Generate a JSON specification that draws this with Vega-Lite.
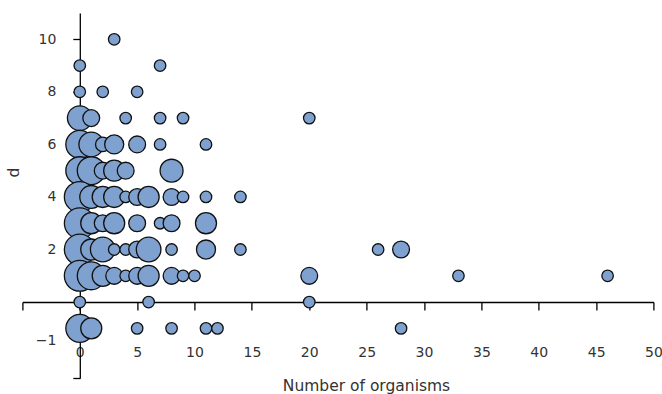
{
  "$schema": "https://vega.github.io/schema/vega-lite/v6.json",
  "autosize": {"type": "none"},
  "padding": {"left": 22.4, "top": 13, "right": 8.5, "bottom": 15.7},
  "width": 631.1,
  "height": 365.3,
  "background": "white",
  "config": {"view": {"stroke": null}},
  "data": {"values": [
    {"d": 10, "organisms": 3, "n": 1},
    {"d": 9, "organisms": 0, "n": 1},
    {"d": 9, "organisms": 7, "n": 1},
    {"d": 8, "organisms": 0, "n": 1},
    {"d": 8, "organisms": 2, "n": 1},
    {"d": 8, "organisms": 5, "n": 1},
    {"d": 7, "organisms": 0, "n": 4},
    {"d": 7, "organisms": 1, "n": 2},
    {"d": 7, "organisms": 4, "n": 1},
    {"d": 7, "organisms": 7, "n": 1},
    {"d": 7, "organisms": 9, "n": 1},
    {"d": 7, "organisms": 20, "n": 1},
    {"d": 6, "organisms": 0, "n": 5},
    {"d": 6, "organisms": 1, "n": 4},
    {"d": 6, "organisms": 2, "n": 1.5},
    {"d": 6, "organisms": 3, "n": 2.5},
    {"d": 6, "organisms": 5, "n": 2},
    {"d": 6, "organisms": 7, "n": 1},
    {"d": 6, "organisms": 11, "n": 1},
    {"d": 5, "organisms": 0, "n": 5},
    {"d": 5, "organisms": 1, "n": 5},
    {"d": 5, "organisms": 2, "n": 2},
    {"d": 5, "organisms": 3, "n": 3},
    {"d": 5, "organisms": 4, "n": 2},
    {"d": 5, "organisms": 8, "n": 3.5},
    {"d": 4, "organisms": 0, "n": 6},
    {"d": 4, "organisms": 1, "n": 3.5},
    {"d": 4, "organisms": 2, "n": 3},
    {"d": 4, "organisms": 3, "n": 3},
    {"d": 4, "organisms": 4, "n": 1},
    {"d": 4, "organisms": 5, "n": 2},
    {"d": 4, "organisms": 6, "n": 3},
    {"d": 4, "organisms": 8, "n": 2},
    {"d": 4, "organisms": 9, "n": 1},
    {"d": 4, "organisms": 11, "n": 1},
    {"d": 4, "organisms": 14, "n": 1},
    {"d": 3, "organisms": 0, "n": 6},
    {"d": 3, "organisms": 1, "n": 3},
    {"d": 3, "organisms": 2, "n": 2},
    {"d": 3, "organisms": 3, "n": 3},
    {"d": 3, "organisms": 5, "n": 2},
    {"d": 3, "organisms": 7, "n": 1},
    {"d": 3, "organisms": 8, "n": 2},
    {"d": 3, "organisms": 11, "n": 3},
    {"d": 2, "organisms": 0, "n": 6},
    {"d": 2, "organisms": 1, "n": 3},
    {"d": 2, "organisms": 2, "n": 4},
    {"d": 2, "organisms": 3, "n": 1},
    {"d": 2, "organisms": 4, "n": 1},
    {"d": 2, "organisms": 5, "n": 2},
    {"d": 2, "organisms": 6, "n": 4},
    {"d": 2, "organisms": 8, "n": 1},
    {"d": 2, "organisms": 11, "n": 2.5},
    {"d": 2, "organisms": 14, "n": 1},
    {"d": 2, "organisms": 26, "n": 1},
    {"d": 2, "organisms": 28, "n": 2},
    {"d": 1, "organisms": 0, "n": 6},
    {"d": 1, "organisms": 1, "n": 5},
    {"d": 1, "organisms": 2, "n": 3},
    {"d": 1, "organisms": 3, "n": 2},
    {"d": 1, "organisms": 4, "n": 1},
    {"d": 1, "organisms": 5, "n": 2},
    {"d": 1, "organisms": 6, "n": 3},
    {"d": 1, "organisms": 8, "n": 2},
    {"d": 1, "organisms": 9, "n": 1},
    {"d": 1, "organisms": 10, "n": 1},
    {"d": 1, "organisms": 20, "n": 2},
    {"d": 1, "organisms": 33, "n": 1},
    {"d": 1, "organisms": 46, "n": 1},
    {"d": 0, "organisms": 0, "n": 1},
    {"d": 0, "organisms": 6, "n": 1},
    {"d": 0, "organisms": 20, "n": 1},
    {"d": -1, "organisms": 0, "n": 5},
    {"d": -1, "organisms": 1, "n": 3},
    {"d": -1, "organisms": 5, "n": 1},
    {"d": -1, "organisms": 8, "n": 1},
    {"d": -1, "organisms": 11, "n": 1},
    {"d": -1, "organisms": 12, "n": 1},
    {"d": -1, "organisms": 28, "n": 1}
  ]},
  "mark": {"type": "circle", "fill": "#7fa1cf", "stroke": "#111111", "strokeWidth": 1.3, "opacity": 1},
  "encoding": {
    "x": {
      "field": "organisms", "type": "quantitative",
      "scale": {"domain": [-5, 50], "nice": false, "zero": false},
      "axis": {
        "title": "Number of organisms",
        "values": [-5, 0, 5, 10, 15, 20, 25, 30, 35, 40, 45, 50],
        "labelExpr": "datum.value < 0 ? '' : datum.label",
        "offset": -76.3,
        "grid": false,
        "domainColor": "#000000", "domainWidth": 1.3,
        "tickColor": "#000000", "tickWidth": 1.3, "tickSize": 8,
        "labelPadding": 46.7, "labelBaseline": "alphabetic",
        "labelFont": "DejaVu Sans", "labelFontSize": 14, "labelColor": "#333333",
        "labelFlush": false, "labelOverlap": false,
        "titleFont": "DejaVu Sans", "titleFontSize": 15.5, "titleFontWeight": "normal", "titleColor": "#333333",
        "titleX": 343.6, "titleY": 88, "titleBaseline": "alphabetic", "titleAlign": "center"
      }
    },
    "y": {
      "field": "d", "type": "quantitative",
      "scale": {"domain": [-2.9, 11], "nice": false, "zero": false},
      "axis": {
        "title": "d",
        "values": [-2.9, -1, 2, 4, 6, 8, 10],
        "labelExpr": "datum.value < -2 ? '' : datum.label",
        "offset": -57.4,
        "grid": false,
        "domainColor": "#000000", "domainWidth": 1.3,
        "tickColor": "#000000", "tickWidth": 1.3, "tickSize": 7,
        "labelPadding": 17,
        "labelOffset": {"condition": {"test": "datum.value < 0", "value": 12}, "value": 0},
        "labelFont": "DejaVu Sans", "labelFontSize": 14, "labelColor": "#333333",
        "labelFlush": false, "labelOverlap": false,
        "titleFont": "DejaVu Sans", "titleFontSize": 15.5, "titleFontWeight": "normal", "titleColor": "#333333",
        "titleX": -61.8, "titleY": 159, "titleAngle": -90, "titleBaseline": "alphabetic", "titleAlign": "center"
      }
    },
    "size": {
      "field": "n", "type": "quantitative",
      "scale": {"type": "pow", "exponent": 1.1, "domain": [0, 6], "range": [0, 950]},
      "legend": null
    }
  }
}
